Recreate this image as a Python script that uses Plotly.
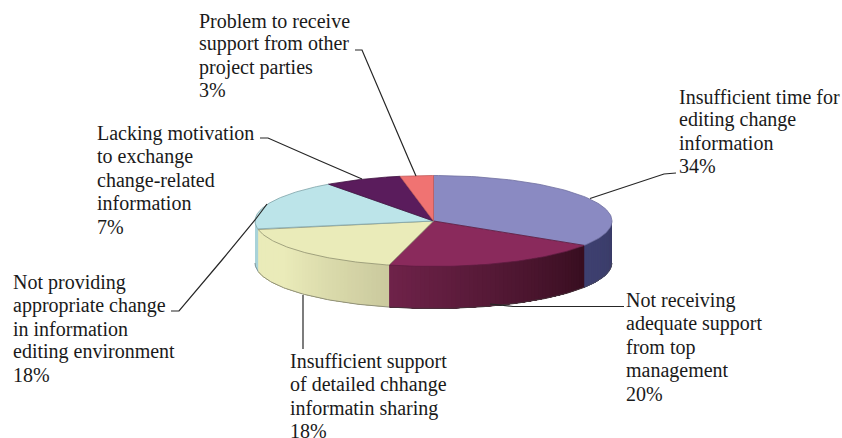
import numpy as np
import plotly.graph_objects as go

# ---- data ----
categories = [
    ["Insufficient time for", "editing change", "information"],
    ["Not receiving", "adequate support", "from top", "management"],
    ["Insufficient support", "of detailed chhange", "informatin sharing"],
    ["Not providing", "appropriate change", "in information", "editing environment"],
    ["Lacking motivation", "to exchange", "change-related", "information"],
    ["Problem to receive", "support from other", "project parties"],
]
shares = [34, 20, 18, 18, 7, 3]

# ---- styles ----
top_colors = ["#8A8AC2", "#8A2A5C", "#EAEBB9", "#BCE4E9", "#5A1C5C", "#F07372"]
edge_colors = ["#6F6FA0", "#5E1C40", "#8F9070", "#7FA3A8", "#3F1240", "#C05A5A"]
side_light = ["#3E4070", "#6E2249", "#EAEBB9", "#A9D3D9", "#3F1240", "#B05050"]
side_dark = ["#3A3C68", "#380E20", "#CBCA9E", "#A9D3D9", "#3F1240", "#B05050"]

# ---- geometry of the tilted pie, in page pixels ----
CX, CY, RX, RY, DEPTH = 433.5, 221.0, 178.5, 45.5, 42.0
W, H = 842, 438
LINE_STEP = 23.3

label_pos = [(678, 103), (625, 307), (289, 368), (12, 288.5), (96, 140), (198, 27)]
leaders = [
    [(590, 198.5), (664, 174), (676, 173)],
    [(490, 304), (513, 306.5), (624, 306.5)],
    [(303, 295), (303, 349)],
    [(171, 311), (179, 311), (222, 260), (255, 220), (267, 204)],
    [(260, 138), (268, 138), (318, 160), (362, 179)],
    [(355, 50), (362, 50), (409, 160), (416, 176)],
]


def hex_rgb(c):
    return np.array([int(c[i:i + 2], 16) for i in (1, 3, 5)], float)


def mix(a, b, t):
    v = hex_rgb(a) * (1 - t) + hex_rgb(b) * t
    return "rgb(%d,%d,%d)" % tuple(v.round())


def px(theta):
    return CX + RX * np.sin(theta)


def py(theta):
    return CY - RY * np.cos(theta)


fig = go.Figure()
cum = np.cumsum([0] + shares) / sum(shares) * 2 * np.pi


def poly(xs, ys, fill, line, width):
    fig.add_trace(go.Scatter(x=xs, y=ys, mode="lines", fill="toself", fillcolor=fill,
                             line=dict(color=line, width=width), hoverinfo="skip",
                             showlegend=False))


# side walls: only the front half (90deg..270deg clockwise from the top) can be seen
for i in range(len(shares)):
    a0, a1 = max(cum[i], np.pi / 2), min(cum[i + 1], 3 * np.pi / 2)
    if a1 <= a0:
        continue
    n = max(2, int((a1 - a0) / 0.025))
    edges = np.linspace(a0, a1, n + 1)
    for k in range(n):
        # every band runs on to the slice's end, so later bands cover the seams
        t = np.linspace(edges[k], a1, 40)
        frac = k / max(1, n - 1)
        shade = min(1.0, frac / 0.65) if i == 2 else frac
        col = mix(side_dark[i], side_light[i], shade)
        xs = np.r_[px(t), px(t[::-1])]
        ys = np.r_[py(t), py(t[::-1]) + DEPTH]
        poly(xs, ys, col, "rgba(0,0,0,0)", 0)
    # lower rim
    t = np.linspace(a0, a1, 60)
    fig.add_trace(go.Scatter(x=px(t), y=py(t) + DEPTH, mode="lines",
                             line=dict(color=mix(side_dark[i], "#555555", 0.5), width=1),
                             hoverinfo="skip", showlegend=False))

# top face wedges
for i in range(len(shares)):
    t = np.linspace(cum[i], cum[i + 1], 80)
    xs = np.r_[CX, px(t), CX]
    ys = np.r_[CY, py(t), CY]
    poly(xs, ys, top_colors[i], edge_colors[i], 0.8)

shapes = []
for pts in leaders:
    d = "M " + " L ".join(f"{x} {y}" for x, y in pts)
    shapes.append(dict(type="path", path=d, xref="x", yref="y",
                       line=dict(color="#262626", width=1.2)))

annotations = []
for lines, v, (x, y) in zip(categories, shares, label_pos):
    for j, line in enumerate(lines + [f"{v}%"]):
        annotations.append(dict(text=line, x=x, y=y + j * LINE_STEP - 6.5, xref="x", yref="y",
                                xanchor="left", yanchor="middle", align="left",
                                showarrow=False, borderpad=0,
                                font=dict(family="Liberation Serif", size=20, color="#1a1a1a")))

fig.update_layout(
    width=W, height=H, margin=dict(l=0, r=0, t=0, b=0),
    paper_bgcolor="white", plot_bgcolor="white",
    xaxis=dict(range=[0, W], visible=False, fixedrange=True),
    yaxis=dict(range=[H, 0], visible=False, fixedrange=True),
    shapes=shapes, annotations=annotations, showlegend=False,
)
fig.write_html("out.html", config={"displayModeBar": False},
               post_script="document.body.style.margin='0';window.dispatchEvent(new Event('resize'));")
